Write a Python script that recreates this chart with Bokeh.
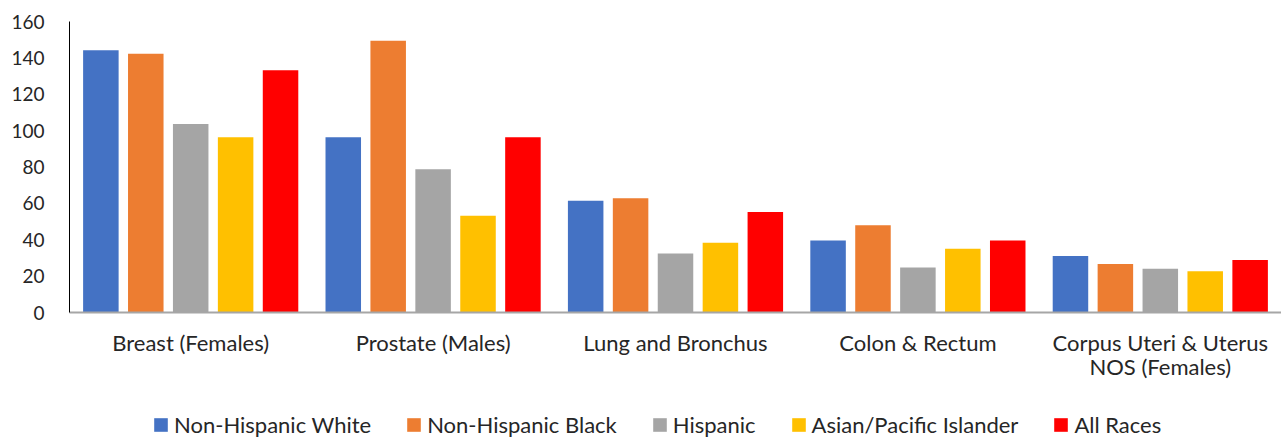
from bokeh.plotting import figure
from bokeh.layouts import column
from bokeh.models import Range1d, FixedTicker, Legend, LegendItem, ColumnDataSource
from bokeh.transform import dodge
from bokeh.embed import file_html
from bokeh.resources import INLINE

categories = ["Breast (Females)", "Prostate (Males)", "Lung and Bronchus",
              "Colon & Rectum", "Corpus Uteri & Uterus\nNOS (Females)"]
series = ["Non-Hispanic White", "Non-Hispanic Black", "Hispanic",
          "Asian/Pacific Islander", "All Races"]
nh_white = [144.2, 96.4, 61.5, 39.6, 31.0]
nh_black = [142.2, 149.4, 62.8, 48.0, 26.6]
hispanic = [103.6, 78.8, 32.4, 24.7, 24.0]
asian_pi = [96.4, 53.2, 38.3, 35.0, 22.7]
all_races = [133.2, 96.4, 55.2, 39.6, 28.8]
colors = ["#4472C4", "#ED7D31", "#A5A5A5", "#FFC000", "#FF0000"]
y_ticks = [0, 20, 40, 60, 80, 100, 120, 140, 160]

FONT = "Lato"
TEXT = "#262626"

idx = list(range(len(categories)))
source = ColumnDataSource(dict(x=idx, s0=nh_white, s1=nh_black, s2=hispanic,
                               s3=asian_pi, s4=all_races))

p = figure(width=1281, height=410, output_backend="svg", toolbar_location=None,
           x_range=Range1d(-0.5, 4.5), y_range=Range1d(0, 160),
           min_border_left=69, min_border_right=0, min_border_top=21,
           min_border_bottom=98)
p.outline_line_color = None
p.grid.grid_line_color = None

step = 0.1853
bw = 0.1465
for k, name in enumerate(series):
    p.vbar(x=dodge("x", (k - 2) * step, range=p.x_range), top=f"s{k}",
           width=bw, source=source, fill_color=colors[k], line_color=None)

# y axis
p.yaxis.ticker = FixedTicker(ticks=y_ticks)
p.yaxis.axis_line_color = "black"
p.yaxis.axis_line_width = 1
p.yaxis.major_tick_line_color = None
p.yaxis.minor_tick_line_color = None
p.yaxis.major_tick_out = 0
p.yaxis.major_tick_in = 0
p.yaxis.major_label_standoff = 25
p.yaxis.major_label_text_font = FONT
p.yaxis.major_label_text_font_size = "19px"
p.yaxis.major_label_text_color = TEXT

# x axis
p.xaxis.ticker = FixedTicker(ticks=idx)
p.xaxis.major_label_overrides = {i: c for i, c in zip(idx, categories)}
p.xaxis.axis_line_color = "#A6A6A6"
p.xaxis.axis_line_width = 2
p.xaxis.major_tick_line_color = None
p.xaxis.minor_tick_line_color = None
p.xaxis.major_tick_out = 0
p.xaxis.major_tick_in = 0
p.xaxis.major_label_standoff = 16
p.xaxis.major_label_text_font = FONT
p.xaxis.major_label_text_font_size = "22px"
p.xaxis.major_label_text_color = TEXT
p.xaxis.major_label_text_line_height = 0.9

# legend strip below the chart (its bars lie outside its visible y range,
# only the legend swatches are seen)
lg = figure(width=1281, height=28, output_backend="svg", toolbar_location=None,
            x_range=Range1d(-0.5, 4.5), y_range=Range1d(1000, 1001),
            x_axis_location=None, y_axis_location=None,
            min_border_left=69, min_border_right=0, min_border_top=0,
            min_border_bottom=0)
lg.outline_line_color = None
lg.grid.grid_line_color = None
items = []
for k, name in enumerate(series):
    r = lg.vbar(x="x", top=f"s{k}", width=bw, source=source,
                fill_color=colors[k], line_color=None)
    items.append(LegendItem(label=name, renderers=[r]))

legend = Legend(items=items, orientation="horizontal", location=(83, 0),
                glyph_width=17, glyph_height=17, label_standoff=5, spacing=34,
                padding=0, margin=0, border_line_color=None,
                background_fill_alpha=0, label_text_font=FONT,
                label_text_font_size="22px", label_text_color=TEXT,
                label_height=17)
lg.add_layout(legend, "center")

layout = column(p, lg, spacing=0)
open("out.html", "w").write(file_html(layout, INLINE))
